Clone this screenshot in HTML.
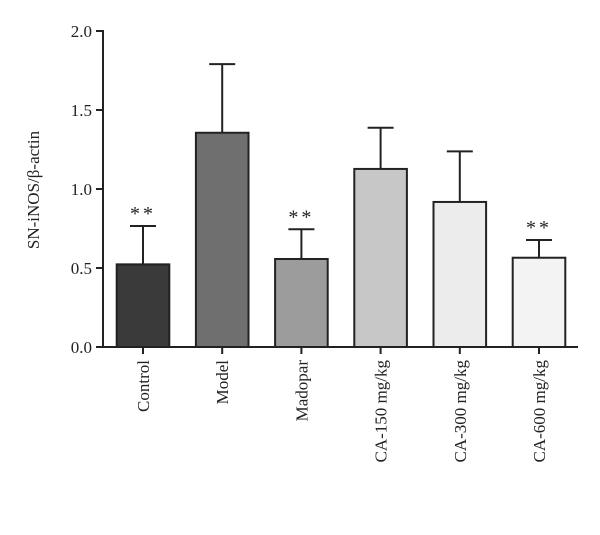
<!DOCTYPE html>
<html><head><meta charset="utf-8"><style>
body{margin:0;background:#fff}
svg text{font-family:"Liberation Serif",serif;fill:#222}
</style></head><body>
<svg width="600" height="530" id="c"></svg>
<script>
const categories=["Control","Model","Madopar","CA-150 mg/kg","CA-300 mg/kg","CA-600 mg/kg"];
const means=[0.523,1.356,0.557,1.127,0.918,0.565];
const errs=[0.243,0.434,0.188,0.261,0.32,0.112];
const sig=[true,false,true,false,false,true];
const colors=["#3b3a3b","#6f6f6f","#9c9c9c","#c6c7c6","#ececec","#f3f3f3"];
const yTicks=[0,0.5,1,1.5,2];
const yTickLabels=["0.0","0.5","1.0","1.5","2.0"];
const NS="http://www.w3.org/2000/svg";
const svg=document.getElementById('c');
const x0=103,y0=347,k=158,step=79.2,bw=52.6,first=116.7;
const y=v=>y0-v*k;
const xc=i=>first+bw/2+i*step;
function mk(t,a,p){const e=document.createElementNS(NS,t);for(const q in a)e.setAttribute(q,a[q]);(p||svg).appendChild(e);return e;}
const ax=mk('g',{stroke:'#222','stroke-width':2});


mk('line',{x1:x0,y1:y(2)-1,x2:x0,y2:y0+1},ax);
mk('line',{x1:x0,y1:y0,x2:578,y2:y0},ax);
yTicks.forEach((v,i)=>{
 mk('line',{x1:x0-7,y1:y(v),x2:x0,y2:y(v)},ax);
 const t=mk('text',{x:x0-11,y:y(v)+6,'text-anchor':'end','font-size':17});
 t.textContent=yTickLabels[i];
 
 
});
categories.forEach((c,i)=>{
 const cx=xc(i);
 const g=mk('g',{});
 
 
 const top=y(means[i]),et=y(means[i]+errs[i]);
 mk('line',{x1:cx,y1:top,x2:cx,y2:et,stroke:'#222','stroke-width':2},g);
 mk('line',{x1:cx-13,y1:et,x2:cx+13,y2:et,stroke:'#222','stroke-width':2},g);
 mk('rect',{x:cx-bw/2,y:top,width:bw,height:y0-top,fill:colors[i],stroke:'#222','stroke-width':2},g);
 mk('line',{x1:cx,y1:y0,x2:cx,y2:y0+7,stroke:'#222','stroke-width':2},g);
 if(sig[i]){const s=mk('text',{x:cx,y:et-6,'text-anchor':'middle','font-size':20,'letter-spacing':'3'},g);s.textContent='**';}
 const t=mk('text',{x:0,y:0,'text-anchor':'end','font-size':17,transform:`translate(${cx+6},360) rotate(-90)`});
 t.textContent=c;
 
 
});
const yt=mk('text',{x:0,y:0,'text-anchor':'middle','font-size':17,transform:`translate(39,190) rotate(-90)`});
yt.textContent='SN-iNOS/β-actin';


</script>
</body></html>
